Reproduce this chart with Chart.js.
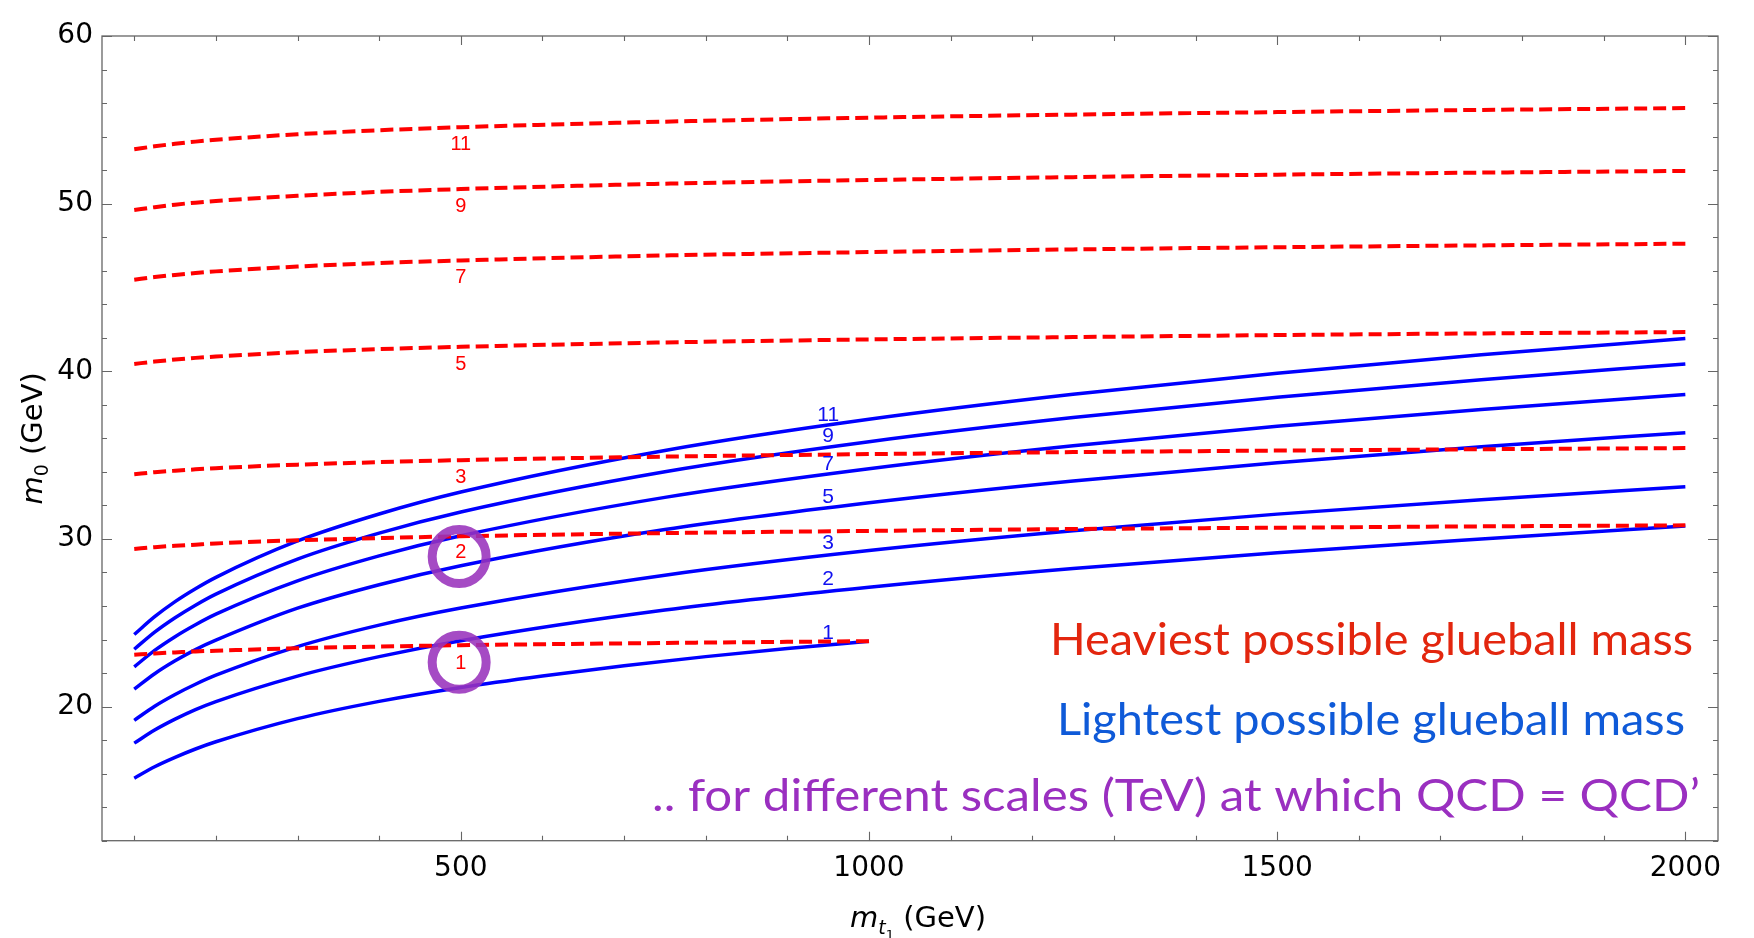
<!DOCTYPE html>
<html>
<head>
<meta charset="utf-8">
<script src="https://cdn.jsdelivr.net/npm/chart.js@4.4.1/dist/chart.umd.min.js"></script>
<style>
  html, body { margin: 0; padding: 0; background: #fff; }
  #wrap { width: 1754px; height: 938px; }
</style>
</head>
<body>
<div id="wrap"><canvas id="chart" width="1754" height="938"></canvas></div>
<script>
// stop mass samples (GeV)
const mStop = [100, 125, 150, 175, 200, 300, 400, 500, 750, 1000, 1250, 1500, 1750, 2000];
const mStopShort = [100, 125, 150, 175, 200, 300, 400, 500, 600, 700, 800, 900, 1000];

// heaviest possible glueball mass m0 (GeV), one curve per scale (TeV)
const heavy11 = [53.24, 53.42, 53.57, 53.70, 53.81, 54.14, 54.38, 54.56, 54.89, 55.13, 55.31, 55.46, 55.59, 55.70];
const heavy9  = [49.62, 49.79, 49.94, 50.06, 50.16, 50.47, 50.70, 50.87, 51.19, 51.41, 51.58, 51.73, 51.85, 51.95];
const heavy7  = [45.46, 45.62, 45.75, 45.86, 45.96, 46.25, 46.46, 46.61, 46.91, 47.11, 47.27, 47.40, 47.51, 47.61];
const heavy5  = [40.44, 40.58, 40.70, 40.80, 40.88, 41.14, 41.32, 41.46, 41.72, 41.90, 42.04, 42.16, 42.26, 42.34];
const heavy3  = [33.86, 33.98, 34.07, 34.15, 34.22, 34.43, 34.58, 34.70, 34.91, 35.06, 35.18, 35.27, 35.35, 35.42];
const heavy2  = [29.40, 29.51, 29.59, 29.66, 29.73, 29.92, 30.05, 30.16, 30.35, 30.48, 30.59, 30.67, 30.75, 30.81];
const heavy1  = [23.09, 23.17, 23.23, 23.29, 23.33, 23.48, 23.58, 23.66, 23.72, 23.77, 23.82, 23.86, 23.90];

// lightest possible glueball mass m0 (GeV)
const light11 = [24.30, 25.36, 26.26, 27.03, 27.71, 29.88, 31.49, 32.80, 35.28, 37.14, 38.63, 39.89, 40.98, 41.95];
const light9  = [23.42, 24.44, 25.30, 26.05, 26.71, 28.80, 30.35, 31.61, 34.01, 35.80, 37.24, 38.45, 39.50, 40.44];
const light7  = [22.37, 23.35, 24.17, 24.88, 25.51, 27.50, 28.99, 30.19, 32.48, 34.19, 35.56, 36.72, 37.72, 38.62];
const light5  = [21.04, 21.96, 22.73, 23.40, 23.96, 25.87, 27.27, 28.40, 30.56, 32.16, 33.46, 34.55, 35.50, 36.34];
const light3  = [19.18, 20.02, 20.72, 21.33, 21.87, 23.58, 24.86, 25.88, 27.84, 29.31, 30.49, 31.48, 32.34, 33.11];
const light2  = [17.82, 18.60, 19.25, 19.82, 20.30, 21.82, 22.98, 23.93, 25.76, 27.12, 28.24, 29.18, 30.00, 30.77];
const light1  = [15.73, 16.41, 16.97, 17.47, 17.90, 19.28, 20.31, 21.14, 21.83, 22.44, 22.98, 23.46, 23.90];

// curve labels (scale in TeV) and where they sit
const scaleNames = ['11', '9', '7', '5', '3', '2', '1'];
const heavyLabelX = 500;
const heavyLabelY = [53.55, 49.85, 45.58, 40.38, 33.69, 29.17, 22.59];
const lightLabelX = 950;
const lightLabelY = [37.40, 36.10, 34.48, 32.50, 29.72, 27.57, 24.38];

// highlighted points where QCD = QCD'
const circleX = [498, 498];
const circleY = [28.95, 22.64];

const xTicks = [500, 1000, 1500, 2000];
const yTicks = [20, 30, 40, 50, 60];

const RED = '#ff0000';
const BLUE = '#0000ff';
const PURPLE = 'rgba(153, 50, 188, 0.88)';

const pts = (xs, ys) => xs.map((x, i) => ({ x: x, y: ys[i] }));

const heavySets = [heavy11, heavy9, heavy7, heavy5, heavy3, heavy2].map(v => pts(mStop, v));
heavySets.push(pts(mStopShort, heavy1));
const lightSets = [light11, light9, light7, light5, light3, light2].map(v => pts(mStop, v));
lightSets.push(pts(mStopShort, light1));

const datasets = [];
datasets.push({
  data: pts(circleX, circleY),
  showLine: false,
  pointRadius: 27,
  pointBorderWidth: 9,
  pointBorderColor: PURPLE,
  pointBackgroundColor: 'rgba(0,0,0,0)'
});
heavySets.forEach(d => datasets.push({
  data: d, showLine: true, pointRadius: 0, borderColor: RED, borderWidth: 4,
  borderDash: [13, 6], cubicInterpolationMode: 'monotone', fill: false
}));
lightSets.forEach(d => datasets.push({
  data: d, showLine: true, pointRadius: 0, borderColor: BLUE, borderWidth: 3.5,
  cubicInterpolationMode: 'monotone', fill: false
}));

// frame with inward ticks on all four sides
const frameTicks = {
  id: 'frameTicks',
  afterDraw(chart) {
    const { ctx, chartArea: a, scales: { x, y } } = chart;
    ctx.save();
    ctx.strokeStyle = '#666';
    ctx.lineWidth = 1.3;
    ctx.strokeRect(a.left, a.top, a.right - a.left, a.bottom - a.top);
    ctx.lineWidth = 1.1;
    ctx.beginPath();
    for (let v = 100; v <= 2000; v += 100) {
      const px = Math.round(x.getPixelForValue(v)) + 0.5;
      const len = xTicks.includes(v) ? 9 : 5;
      ctx.moveTo(px, a.bottom); ctx.lineTo(px, a.bottom - len);
      ctx.moveTo(px, a.top); ctx.lineTo(px, a.top + len);
    }
    for (let v = 12; v <= 60; v += 2) {
      const py = Math.round(y.getPixelForValue(v)) + 0.5;
      const len = yTicks.includes(v) ? 10 : 5;
      ctx.moveTo(a.left, py); ctx.lineTo(a.left + len, py);
      ctx.moveTo(a.right, py); ctx.lineTo(a.right - len, py);
    }
    ctx.stroke();
    ctx.restore();
  }
};

// numbers on the curves
const curveLabels = {
  id: 'curveLabels',
  afterDatasetsDraw(chart) {
    const { ctx, scales: { x, y } } = chart;
    ctx.save();
    ctx.textAlign = 'center';
    ctx.textBaseline = 'middle';
    ctx.font = '20px "Liberation Sans"';
    ctx.fillStyle = RED;
    scaleNames.forEach((s, i) => ctx.fillText(s, x.getPixelForValue(heavyLabelX), y.getPixelForValue(heavyLabelY[i])));
    ctx.font = '21px "Liberation Sans"';
    ctx.fillStyle = '#1010f0';
    scaleNames.forEach((s, i) => ctx.fillText(s, x.getPixelForValue(lightLabelX), y.getPixelForValue(lightLabelY[i])));
    ctx.restore();
  }
};

// axis titles with subscripts
function drawParts(ctx, parts, cx, base) {
  let total = 0;
  parts.forEach(p => { ctx.font = p.font; p.w = ctx.measureText(p.t).width; total += p.w; });
  let xx = cx - total / 2;
  parts.forEach(p => { ctx.font = p.font; ctx.fillText(p.t, xx, base + p.dy); xx += p.w; });
}
const axisTitles = {
  id: 'axisTitles',
  afterDraw(chart) {
    const { ctx, chartArea: a } = chart;
    ctx.save();
    ctx.fillStyle = '#000';
    ctx.textAlign = 'left';
    ctx.textBaseline = 'alphabetic';
    drawParts(ctx, [
      { t: 'm', font: 'italic 29px "DejaVu Sans"', dy: 0 },
      { t: 't', font: 'italic 19px "DejaVu Sans"', dy: 7 },
      { t: '1', font: '13px "DejaVu Sans"', dy: 12 },
      { t: ' (GeV)', font: '29px "DejaVu Sans"', dy: 0 }
    ], (a.left + a.right) / 2 + 8, 927);
    ctx.translate(42, (a.top + a.bottom) / 2);
    ctx.rotate(-Math.PI / 2);
    drawParts(ctx, [
      { t: 'm', font: 'italic 29px "DejaVu Sans"', dy: 0 },
      { t: '0', font: '19px "DejaVu Sans"', dy: 6 },
      { t: ' (GeV)', font: '29px "DejaVu Sans"', dy: 0 }
    ], 0, 0);
    ctx.restore();
  }
};

// the three coloured notes, bottom right
const notes = [
  { text: 'Heaviest possible glueball mass', color: '#e3260e', left: 1050, right: 1693, base: 655 },
  { text: 'Lightest possible glueball mass', color: '#0f5ad8', left: 1057, right: 1685, base: 735 },
  { text: '.. for different scales (TeV) at which QCD = QCD\u2019', color: '#9a2fc0', left: 652, right: 1700, base: 811 }
];
const noteText = {
  id: 'noteText',
  afterDraw(chart) {
    const ctx = chart.ctx;
    notes.forEach(n => {
      ctx.save();
      ctx.font = '44px Lato';
      const w = ctx.measureText(n.text).width;
      ctx.translate(n.right, n.base);
      ctx.scale((n.right - n.left) / w, 1);
      ctx.textAlign = 'right';
      ctx.textBaseline = 'alphabetic';
      ctx.fillStyle = n.color;
      ctx.fillText(n.text, 0, 0);
      ctx.restore();
    });
  }
};

new Chart(document.getElementById('chart'), {
  type: 'scatter',
  data: { datasets: datasets },
  options: {
    responsive: false,
    animation: false,
    devicePixelRatio: 1,
    layout: { padding: { top: 22, right: 14, left: 0, bottom: 0 } },
    plugins: { legend: { display: false }, tooltip: { enabled: false } },
    scales: {
      x: {
        type: 'linear', min: 60.5, max: 2040,
        grid: { display: false, drawTicks: false },
        border: { display: false },
        ticks: { color: '#000', padding: 11, font: { family: 'DejaVu Sans', size: 28 }, callback: v => String(v) },
        afterBuildTicks: s => { s.ticks = xTicks.map(v => ({ value: v })); },
        afterFit: s => { s.height = 97.3; }
      },
      y: {
        type: 'linear', min: 12, max: 60,
        grid: { display: false, drawTicks: false },
        border: { display: false },
        ticks: { color: '#000', padding: 9, font: { family: 'DejaVu Sans', size: 28 }, callback: v => String(v) },
        afterBuildTicks: s => { s.ticks = yTicks.map(v => ({ value: v })); },
        afterFit: s => { s.width = 102; }
      }
    }
  },
  plugins: [frameTicks, curveLabels, axisTitles, noteText]
});
</script>
</body>
</html>
